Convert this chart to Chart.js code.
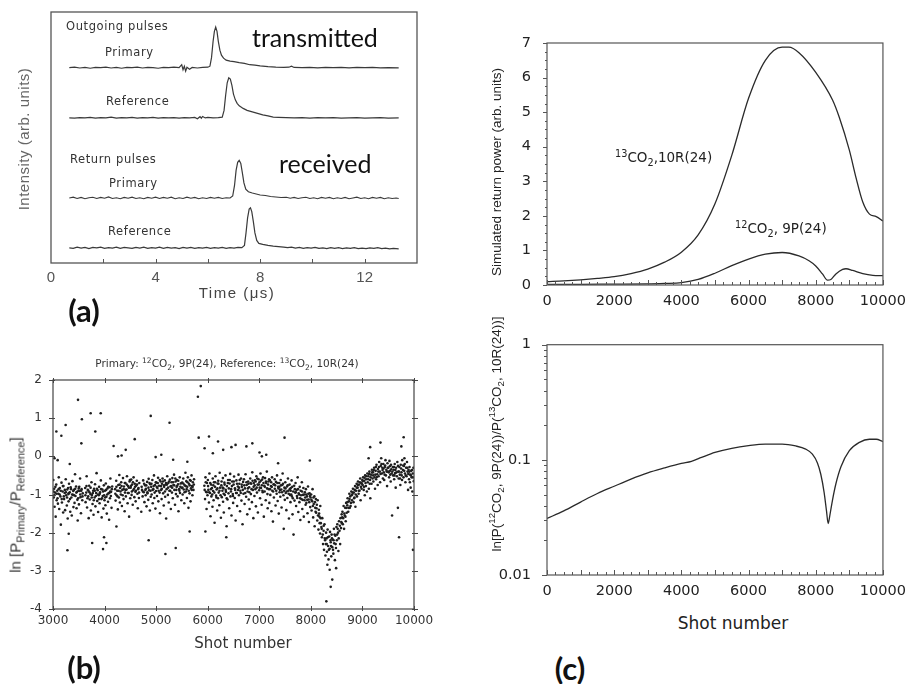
<!DOCTYPE html>
<html>
<head>
<meta charset="utf-8">
<script src="https://cdn.jsdelivr.net/npm/chart.js@4.4.1/dist/chart.umd.min.js"></script>
<style>
  body { margin: 0; background: #fff; }
  #wrap { position: relative; width: 914px; height: 684px; overflow: hidden; }
  canvas { position: absolute; }
  .t { position: absolute; white-space: nowrap; color: #222; font-family: "DejaVu Sans", sans-serif; }
  .c { transform: translate(-50%, -50%); }
  .l { transform: translate(0, -50%); }
  .r { transform: translate(-50%, -50%) rotate(-90deg); }
  sup, sub { font-size: 72%; line-height: 0; }
  .big { font-family: Lato, sans-serif; font-size: 25px; color: #111; }
  .tag { font-family: Lato, sans-serif; font-weight: bold; font-size: 31px; color: #111; }
  .a { font-size: 11.5px; color: #333; letter-spacing: 0.6px; }
</style>
</head>
<body>
<div id="wrap">
  <canvas id="pa" width="460" height="300" style="left:0;top:0"></canvas>
  <canvas id="pb" width="460" height="310" style="left:0;top:330px"></canvas>
  <canvas id="pc1" width="434" height="320" style="left:480px;top:0"></canvas>
  <canvas id="pc2" width="434" height="290" style="left:480px;top:320px"></canvas>

  <!-- (a) -->
  <div class="t l a" style="left:66px;top:26px">Outgoing pulses</div>
  <div class="t l a" style="left:105px;top:52px">Primary</div>
  <div class="t l a" style="left:106px;top:101px">Reference</div>
  <div class="t l a" style="left:70px;top:159px">Return pulses</div>
  <div class="t l a" style="left:109px;top:183px">Primary</div>
  <div class="t l a" style="left:108px;top:231px">Reference</div>
  <div class="t l big" style="left:252px;top:37px">transmitted</div>
  <div class="t l big" style="left:279px;top:163px">received</div>
  <div class="t r" style="left:23px;top:139px;font-family:'Liberation Sans';font-size:15px;color:#666;letter-spacing:0.5px">Intensity (arb. units)</div>
  <div class="t c" style="left:237px;top:292px;font-family:'Liberation Sans';font-size:15px;color:#444;letter-spacing:1.5px">Time (μs)</div>
  <div class="t c tag" style="left:84px;top:310px">(a)</div>

  <!-- (b) -->
  <div class="t c" style="left:227px;top:363px;font-size:10.5px;color:#333">Primary: <sup>12</sup>CO<sub>2</sub>, 9P(24), Reference: <sup>13</sup>CO<sub>2</sub>, 10R(24)</div>
  <div class="t r" style="left:15px;top:505px;font-family:'Liberation Sans';font-size:15px;color:#333">ln [P<sub>Primary</sub>/P<sub>Reference</sub>]</div>
  <div class="t c" style="left:243px;top:643px;font-size:15px;color:#333">Shot number</div>
  <div class="t c tag" style="left:84px;top:667px">(b)</div>

  <!-- (c) -->
  <div class="t r" style="left:496px;top:172px;font-family:'Liberation Sans';font-size:13.5px">Simulated return power (arb. units)</div>
  <div class="t l" style="left:615px;top:157px;font-size:13.5px"><sup>13</sup>CO<sub>2</sub>,10R(24)</div>
  <div class="t l" style="left:735px;top:228px;font-size:13.5px"><sup>12</sup>CO<sub>2</sub>, 9P(24)</div>
  <div class="t r" style="left:496px;top:434px;font-family:'Liberation Sans';font-size:13.5px">ln[P(<sup>12</sup>CO<sub>2</sub>, 9P(24))/P(<sup>13</sup>CO<sub>2</sub>, 10R(24))]</div>
  <div class="t c" style="left:733px;top:623px;font-size:17px">Shot number</div>
  <div class="t c tag" style="left:570px;top:668px">(c)</div>
</div>

<script>
// ---- (a) pulse traces: [time µs, signal] ----
const traceBaselines = [7.78, 5.78, 2.59, 0.6];

const outPrimary = [[0.7,0],[0.9,0.02],[1.1,-0.01],[1.3,0.01],[1.5,-0.02],[1.7,0.01],[1.9,0],[2.1,0.02],[2.3,-0.01],[2.5,0.01],[2.7,-0.02],[2.9,0.01],[3.1,0],[3.3,0.02],[3.5,-0.01],[3.7,0.01],[3.9,0],[4.1,-0.02],[4.3,0.01],[4.5,0],[4.7,0.02],[4.9,0],[5.0,0.12],[5.05,-0.08],[5.1,0.06],[5.15,-0.14],[5.2,0.02],[5.3,-0.06],[5.4,0.01],[5.6,-0.01],[5.8,0.01],[6.0,0.02],[6.08,0.06],[6.14,0.4],[6.2,1.05],[6.25,1.45],[6.3,1.62],[6.35,1.45],[6.4,1.05],[6.46,0.7],[6.52,0.5],[6.6,0.38],[6.7,0.3],[6.85,0.26],[7.0,0.24],[7.2,0.2],[7.4,0.17],[7.6,0.12],[7.8,0.1],[8.0,0.07],[8.3,0.04],[8.6,0.02],[8.9,0.01],[9.1,0.02],[9.2,0.06],[9.3,0.01],[9.6,0],[9.9,0.01],[10.2,-0.01],[10.5,0.01],[10.8,0],[11.1,0.01],[11.4,-0.01],[11.7,0.01],[12.0,0],[12.3,0.01],[12.6,-0.01],[12.9,0],[13.3,-0.01]];

const outReference = [[0.7,0],[0.9,-0.01],[1.1,0.01],[1.3,0],[1.5,0.02],[1.7,-0.01],[1.9,0.01],[2.1,0],[2.3,0.03],[2.5,-0.01],[2.7,0.01],[2.9,0],[3.1,0.02],[3.3,-0.01],[3.5,0.01],[3.7,0],[3.9,0.02],[4.1,-0.01],[4.3,0.01],[4.5,0],[4.7,0.01],[4.9,-0.01],[5.1,0.01],[5.3,0],[5.5,0.02],[5.6,-0.03],[5.7,0.05],[5.75,-0.01],[5.8,0.06],[5.9,0],[6.0,0.02],[6.2,0],[6.4,0.01],[6.55,0.03],[6.62,0.3],[6.68,0.9],[6.74,1.4],[6.8,1.6],[6.86,1.55],[6.92,1.3],[6.98,0.95],[7.05,0.72],[7.12,0.58],[7.2,0.48],[7.35,0.38],[7.5,0.3],[7.7,0.24],[7.9,0.18],[8.1,0.12],[8.3,0.08],[8.5,0.03],[8.7,0.02],[9.0,0.01],[9.3,0],[9.6,0.01],[9.9,-0.01],[10.2,0.01],[10.5,0],[10.8,0.01],[11.1,-0.01],[11.4,0],[11.7,0.01],[12.0,-0.01],[12.3,0],[12.6,0.01],[12.9,-0.01],[13.3,0]];

const retPrimary = [[0.7,0],[0.85,0.03],[1.0,-0.02],[1.15,0.02],[1.3,-0.03],[1.45,0.01],[1.6,0.03],[1.75,-0.02],[1.9,0.02],[2.05,-0.01],[2.2,0.04],[2.35,-0.02],[2.5,0.01],[2.65,-0.03],[2.8,0.02],[2.95,-0.01],[3.1,0.03],[3.25,-0.02],[3.4,0.01],[3.55,-0.03],[3.7,0.02],[3.85,-0.01],[4.0,0.03],[4.15,-0.02],[4.3,0.02],[4.45,-0.01],[4.6,0.03],[4.75,-0.03],[4.9,0.01],[5.05,-0.02],[5.2,0.03],[5.35,-0.01],[5.5,0.02],[5.65,-0.03],[5.8,0.01],[5.95,-0.02],[6.1,0.02],[6.25,-0.01],[6.4,0.02],[6.55,-0.02],[6.7,0.01],[6.85,0],[6.95,0.08],[7.02,0.5],[7.08,1.1],[7.14,1.42],[7.2,1.5],[7.26,1.38],[7.32,1.0],[7.38,0.6],[7.45,0.35],[7.55,0.25],[7.7,0.2],[7.85,0.16],[8.0,0.12],[8.2,0.1],[8.4,0.06],[8.6,0.04],[8.8,0.02],[9.0,0.03],[9.15,-0.01],[9.3,0.02],[9.45,-0.02],[9.6,0.01],[9.75,0.03],[9.9,-0.02],[10.05,0.01],[10.2,-0.03],[10.35,0.02],[10.5,-0.01],[10.65,0.02],[10.8,-0.03],[10.95,0.01],[11.1,-0.02],[11.25,0.02],[11.4,-0.03],[11.55,0],[11.7,0.03],[11.85,-0.02],[12.0,0.01],[12.15,-0.03],[12.3,0.02],[12.45,-0.01],[12.6,0.02],[12.75,-0.03],[12.9,0.01],[13.05,-0.02],[13.2,0],[13.3,-0.02]];

const retReference = [[0.7,0],[0.85,-0.02],[1.0,0.03],[1.15,-0.01],[1.3,0.02],[1.45,-0.03],[1.6,0.02],[1.75,0],[1.9,0.03],[2.05,-0.02],[2.2,0.01],[2.35,-0.01],[2.5,0.03],[2.65,-0.02],[2.8,0.02],[2.95,0],[3.1,-0.02],[3.25,0.02],[3.4,-0.01],[3.55,0.03],[3.7,-0.02],[3.85,0.01],[4.0,-0.01],[4.15,0.03],[4.3,-0.02],[4.45,0.02],[4.6,-0.01],[4.75,0.01],[4.9,-0.03],[5.05,0.02],[5.2,-0.01],[5.35,0.02],[5.5,-0.02],[5.65,0.01],[5.8,-0.01],[5.95,0.02],[6.1,-0.02],[6.25,0.01],[6.4,-0.01],[6.55,0.02],[6.7,-0.02],[6.85,0.01],[7.0,-0.01],[7.15,0.02],[7.3,0.01],[7.4,0.1],[7.46,0.6],[7.52,1.2],[7.58,1.55],[7.63,1.6],[7.68,1.45],[7.74,1.05],[7.8,0.6],[7.87,0.3],[7.95,0.18],[8.1,0.14],[8.3,0.1],[8.5,0.07],[8.7,0.05],[8.9,0.03],[9.05,0.01],[9.2,0.03],[9.35,-0.01],[9.5,0.02],[9.65,-0.02],[9.8,0.01],[9.95,-0.01],[10.1,0.02],[10.25,-0.02],[10.4,0],[10.55,-0.03],[10.7,0.01],[10.85,-0.02],[11.0,0.01],[11.15,-0.03],[11.3,0],[11.45,-0.02],[11.6,0.01],[11.75,-0.03],[11.9,-0.01],[12.05,-0.03],[12.2,0],[12.35,-0.02],[12.5,0.01],[12.65,-0.03],[12.8,-0.01],[12.95,-0.04],[13.1,-0.02],[13.3,-0.04]];

const timeTicks = [0, 4, 8, 12];

// ---- (b) ln ratio per shot: [shot number, ln(P_primary/P_reference)] ----
const ratioShots = [
[3006,-0.62],[3014,-1.08],[3023,-0.85],[3031,-1.32],[3040,-0.95],[3052,-1.58],[3063,-0.74],[3071,-1.15],[3082,-0.9],[3095,-1.24],
[3104,-0.98],[3112,-0.55],[3121,-1.38],[3133,-0.83],[3144,-1.05],[3152,-1.79],[3165,-0.69],[3173,-1.21],[3186,-0.92],[3197,-1.47],
[3203,-0.78],[3215,-1.12],[3226,-0.96],[3234,-1.41],[3247,-0.6],[3255,-1.02],[3268,-1.29],[3276,-0.87],[3285,-1.63],[3298,-0.99],
[3302,-1.18],[3311,-0.72],[3324,-0.94],[3335,-1.45],[3343,-0.81],[3356,-1.08],[3364,-1.55],[3377,-0.65],[3389,-1.01],[3396,-1.33],
[3405,-0.88],[3418,-1.22],[3427,-0.47],[3436,-1.04],[3448,-0.79],[3457,-1.36],[3466,-0.93],[3479,-1.68],[3487,-1.1],[3499,-0.84],
[3503,-1.26],[3516,-0.91],[3525,-0.58],[3533,-1.07],[3542,-1.49],[3554,-0.86],[3568,-1.15],[3577,-0.97],
[3624,-0.83],[3632,-1.2],[3645,-0.95],[3653,-0.52],[3661,-1.34],[3674,-0.88],[3683,-1.05],[3692,-1.62],
[3701,-0.77],[3712,-1.13],[3725,-0.99],[3734,-1.42],[3746,-0.68],[3755,-1.01],[3767,-1.25],[3778,-0.9],[3786,-1.53],[3797,-0.85],
[3806,-1.08],[3815,-0.73],[3823,-1.31],[3837,-0.96],[3845,-0.44],[3858,-1.17],[3866,-0.89],[3875,-1.46],[3888,-1.02],[3894,-0.8],
[3903,-1.23],[3912,-0.94],[3928,-0.63],[3936,-1.12],[3944,-1.6],[3957,-0.87],[3965,-1.04],[3978,-1.37],[3986,-0.76],[3998,-1.15],
[4007,-0.9],[4016,-1.28],[4024,-0.71],[4035,-1.06],[4043,-1.5],[4056,-0.84],[4067,-1.19],[4074,-0.97],[4088,-1.66],[4096,-0.81],
[4104,-1.1],[4113,-0.58],[4127,-0.93],[4135,-1.35],[4148,-0.79],
[4205,-0.86],[4214,-1.16],[4226,-0.64],[4233,-1.02],[4245,-0.9],[4257,-1.39],[4266,-0.75],[4278,-1.08],[4286,-0.49],[4297,-1.21],
[4302,-0.83],[4315,-1.0],[4323,-0.68],[4336,-1.3],[4344,-0.88],[4357,-0.57],[4368,-1.12],[4375,-0.79],[4389,-1.44],[4396,-0.95],
[4404,-0.7],[4413,-1.05],[4426,-0.87],[4434,-0.52],[4447,-1.23],[4455,-0.78],[4468,-0.96],[4476,-1.58],[4485,-0.66],[4498,-1.1],
[4506,-0.82],[4517,-0.61],[4524,-1.01],[4533,-0.74],[4546,-1.27],[4554,-0.89],[4563,-0.55],[4577,-1.07],[4585,-0.72],[4598,-0.93],
[4603,-1.18],[4612,-0.77],[4625,-0.64],[4637,-0.98],[4644,-1.36],[4658,-0.83],[4666,-1.09],[4673,-0.7],
[4712,-1.45],[4726,-0.88],[4738,-1.05],[4749,-0.63],[4761,-0.94],[4773,-1.2],[4785,-0.76],[4797,-1.02],
[4803,-0.85],[4814,-1.31],[4826,-0.67],[4832,-0.97],[4847,-1.14],[4855,-0.59],[4864,-0.89],[4878,-1.42],[4886,-0.73],[4895,-1.06],
[4905,-0.8],[4913,-1.0],[4927,-0.62],[4934,-1.23],[4946,-0.86],[4958,-0.5],[4965,-1.09],[4977,-0.75],[4986,-1.37],[4999,-0.91],
[5004,-0.69],[5016,-1.04],[5025,-0.83],[5037,-0.56],[5043,-1.18],[5055,-0.77],[5068,-0.95],[5074,-1.49],[5086,-0.66],[5097,-0.88],
[5106,-1.12],[5113,-0.72],[5124,-0.58],[5136,-0.97],[5147,-1.29],[5155,-0.8],[5167,-0.63],[5175,-1.06],[5188,-0.74],[5194,-1.63],
[5203,-0.86],[5215,-0.52],[5227,-1.01],[5236,-0.7],[5244,-1.21],[5256,-0.9],[5268,-0.61],[5277,-0.79],[5285,-1.38],[5298,-0.68],
[5306,-0.95],[5314,-0.57],[5323,-1.1],[5335,-0.75],[5347,-0.48],[5353,-0.88],[5366,-1.27],[5378,-0.66],[5384,-0.99],[5396,-0.8],
[5402,-0.62],[5416,-1.05],[5425,-0.73],[5433,-1.44],[5445,-0.86],[5457,-0.55],[5463,-0.96],[5476,-0.71],[5488,-1.15],[5495,-0.83],
[5507,-0.69],[5514,-1.0],[5526,-0.58],[5535,-0.87],[5546,-1.23],[5554,-0.76],[5568,-0.43],[5579,-0.92],[5586,-0.65],[5597,-1.09],
[5604,-0.8],[5615,-0.55],[5627,-1.35],[5636,-0.72],[5648,-0.97],[5655,-0.62],[5667,-1.18],[5675,-0.84],[5686,-0.5],[5694,-0.78],
[5703,-1.02],[5712,-0.68],[5724,-0.88],[5735,-0.6],
[5935,-0.77],[5948,-1.12],[5957,-0.55],[5966,-0.93],[5978,-1.38],[5986,-0.7],[5995,-1.02],
[6003,-0.62],[6012,-0.88],[6024,-1.21],[6033,-0.45],[6045,-0.96],[6054,-1.57],[6066,-0.74],[6071,-1.05],[6083,-0.83],[6092,-1.32],[6098,-0.58],
[6105,-0.91],[6114,-1.15],[6121,-0.68],[6133,-1.74],[6142,-0.8],[6151,-0.52],[6163,-1.03],[6172,-0.87],[6184,-1.42],[6193,-0.71],[6199,-1.1],
[6204,-0.64],[6213,-0.95],[6225,-1.28],[6232,-0.43],[6241,-0.82],[6256,-1.61],[6264,-0.76],[6273,-1.07],[6285,-0.9],[6294,-0.57],[6298,-1.19],
[6306,-0.84],[6312,-1.47],[6324,-0.69],[6331,-1.01],[6345,-0.5],[6353,-0.93],[6366,-1.83],[6372,-0.78],[6384,-1.13],[6395,-0.62],
[6403,-0.97],[6417,-1.36],[6423,-0.71],[6436,-0.46],[6442,-1.05],[6455,-0.86],[6461,-1.55],[6474,-0.66],[6486,-0.99],[6493,-1.22],
[6502,-0.74],[6511,-0.53],[6524,-1.09],[6533,-0.88],[6541,-1.68],[6556,-0.63],[6564,-0.96],[6571,-1.3],[6585,-0.79],[6597,-0.48],
[6605,-1.02],[6613,-0.72],[6627,-1.44],[6632,-0.9],[6646,-0.58],[6654,-1.16],[6663,-0.8],[6675,-1.78],[6686,-0.67],[6694,-0.98],
[6703,-0.6],[6715,-1.25],[6722,-0.84],[6734,-0.47],[6745,-1.06],[6756,-0.75],[6767,-1.52],[6773,-0.92],[6785,-0.66],[6796,-1.13],
[6804,-0.81],[6812,-1.38],[6825,-0.58],[6837,-0.99],[6843,-0.72],[6857,-1.2],[6864,-0.42],[6876,-0.88],[6885,-1.62],[6893,-0.7],
[6906,-1.04],[6917,-0.63],[6924,-0.86],[6935,-1.31],[6943,-0.52],[6955,-0.95],[6967,-0.74],[6973,-1.47],[6986,-0.6],[6997,-0.89],
[7002,-0.68],[7015,-1.1],[7023,-0.45],[7034,-0.83],[7046,-1.27],[7055,-0.61],[7067,-0.94],[7073,-0.55],[7088,-1.58],[7096,-0.77],
[7104,-0.92],[7112,-0.57],[7125,-1.15],[7133,-0.7],[7146,-0.4],[7158,-0.99],[7163,-1.36],[7177,-0.66],[7184,-0.86],[7195,-1.22],
[7207,-0.63],[7214,-1.01],[7226,-0.78],[7235,-1.44],[7247,-0.55],[7252,-0.9],[7265,-1.71],[7276,-0.73],[7283,-1.08],[7298,-0.6],
[7301,-0.85],[7316,-1.29],[7323,-0.67],[7337,-0.98],[7344,-0.5],[7356,-1.17],[7365,-0.8],[7378,-1.5],[7386,-0.7],[7393,-0.94],
[7408,-1.06],[7415,-0.62],[7427,-0.87],[7432,-1.34],[7446,-0.75],[7453,-0.45],[7468,-1.02],[7474,-1.9],[7487,-0.82],[7495,-1.14],
[7504,-0.68],[7513,-0.96],[7525,-1.41],[7538,-0.79],[7544,-1.09],[7556,-0.58],[7563,-0.9],[7575,-1.63],[7587,-0.74],[7596,-1.01],
[7605,-1.2],[7612,-0.83],[7627,-0.63],[7633,-1.05],[7645,-1.52],[7658,-0.92],[7664,-2.05],[7676,-0.77],[7683,-1.16],[7697,-0.95],
[7703,-0.7],[7714,-1.3],[7722,-0.88],[7736,-1.09],[7744,-0.55],[7757,-1.46],[7765,-0.97],[7778,-1.2],[7784,-0.8],[7796,-1.67],
[7802,-0.9],[7816,-1.12],[7825,-0.68],[7834,-1.38],[7847,-1.01],[7855,-0.83],[7863,-1.58],[7877,-1.15],[7884,-0.94],[7898,-1.27],
[7904,-0.86],[7913,-1.22],[7926,-1.05],[7934,-1.49],[7945,-0.79],[7957,-1.13],[7962,-1.72],[7976,-0.97],[7988,-1.33],[7995,-1.08],
[8006,-1.0],[8014,-1.42],[8027,-1.18],[8033,-0.86],[8045,-1.6],[8056,-1.25],[8068,-1.05],[8074,-1.83],[8085,-1.35],[8097,-1.12],
[8103,-1.48],[8116,-1.27],[8124,-1.68],[8132,-1.15],[8147,-1.92],[8155,-1.4],[8166,-1.58],[8178,-2.02],[8183,-1.3],[8194,-1.75],
[8205,-1.85],[8214,-2.12],[8222,-1.62],[8236,-2.3],[8247,-1.95],[8255,-2.45],[8264,-1.78],[8276,-2.2],[8283,-2.6],[8295,-2.0],
[8304,-2.15],[8312,-2.5],[8325,-1.92],[8334,-2.35],[8343,-2.7],[8356,-2.1],[8364,-2.42],[8372,-1.98],[8385,-2.25],[8396,-2.62],
[8403,-2.05],[8415,-2.38],[8424,-2.18],[8436,-2.55],[8447,-1.9],[8453,-2.28],[8466,-2.72],[8475,-2.08],[8487,-2.4],[8496,-1.85],
[8504,-2.2],[8513,-1.78],[8527,-2.0],[8534,-2.48],[8545,-1.7],[8556,-1.95],[8568,-2.3],[8574,-1.62],[8585,-1.88],[8597,-1.52],
[8603,-1.75],[8612,-1.45],[8626,-1.62],[8635,-1.3],[8644,-1.9],[8657,-1.55],[8665,-1.35],[8676,-1.7],[8684,-1.22],[8695,-1.48],
[8706,-1.28],[8713,-1.1],[8725,-1.45],[8738,-1.18],[8746,-0.98],[8755,-1.35],[8763,-1.05],[8777,-1.22],[8785,-0.92],[8798,-1.15],
[8802,-1.0],[8816,-0.85],[8827,-1.2],[8833,-0.95],[8845,-1.08],[8857,-0.78],[8864,-1.32],[8876,-0.9],[8888,-0.72],[8895,-1.05],
[8907,-0.82],[8914,-0.66],[8926,-0.98],[8935,-0.74],[8943,-0.9],[8957,-0.58],[8965,-1.15],[8976,-0.7],[8983,-0.85],[8997,-0.62],
[9004,-0.75],[9013,-0.55],[9025,-0.88],[9037,-0.64],[9046,-1.02],[9052,-0.5],[9067,-0.78],[9074,-0.6],[9086,-0.92],[9095,-0.45],
[9103,-0.68],[9116,-0.52],[9124,-0.85],[9135,-0.4],[9147,-0.62],[9153,-1.1],[9168,-0.48],[9176,-0.72],[9184,-0.35],[9197,-0.58],
[9205,-0.42],[9212,-0.66],[9227,-0.3],[9236,-0.55],[9244,-0.85],[9256,-0.38],[9265,-0.6],[9273,-0.22],[9288,-0.47],[9296,-0.75],
[9302,-0.33],[9314,-0.52],[9325,-0.15],[9337,-0.4],[9343,-0.68],[9356,-0.25],[9364,-0.05],[9376,-0.45],[9385,-0.3],[9397,-0.58],
[9406,-0.2],[9413,-0.42],[9422,-0.62],[9434,-0.28],[9447,-0.1],[9455,-0.5],[9463,-0.35],[9478,-0.78],[9486,-0.18],[9494,-0.4],
[9503,-0.3],[9517,-0.55],[9524,-0.12],[9533,-0.38],[9548,-0.66],[9554,-0.22],[9566,-0.45],[9575,-1.55],[9587,-0.28],[9596,-0.5],
[9607,-0.35],[9615,-0.6],[9626,-0.2],[9634,-0.44],[9645,-0.82],[9653,-0.3],[9668,-0.52],[9677,-0.15],[9688,-1.35],[9694,-0.4],
[9703,-0.58],[9716,-0.28],[9724,-0.48],[9735,-0.75],[9743,-0.22],[9757,-0.42],[9768,-0.62],[9772,-0.1],[9786,-0.36],[9797,-0.55],
[9806,-0.25],[9814,-0.05],[9826,-0.45],[9833,-0.68],[9847,-0.3],[9855,-0.52],[9864,-0.15],[9876,-0.4],[9885,-0.88],[9893,-0.35],
[9904,-0.6],[9913,-0.28],[9927,-0.48],[9935,-0.82],[9946,-0.38],[9954,-0.55],[9968,-0.92],[9975,-0.45],[9988,-0.3],[9996,-0.65]
];
// the dense core of the cloud
const ratioCore = [
[3009,-0.92],[3027,-1.02],[3046,-0.8],[3068,-0.98],[3088,-1.1],[3109,-0.86],[3128,-1.0],[3149,-0.9],[3169,-1.12],[3191,-0.78],
[3209,-1.05],[3229,-0.88],[3251,-0.94],[3272,-1.08],[3293,-0.83],[3307,-0.97],[3329,-1.12],[3349,-0.86],[3370,-1.0],[3392,-0.91],
[3411,-1.02],[3431,-0.85],[3452,-0.95],[3473,-1.14],[3493,-0.9],[3509,-0.8],[3529,-1.0],[3548,-0.9],[3572,-1.05],
[3628,-1.02],[3649,-0.78],[3668,-1.1],[3687,-0.9],[3707,-0.94],[3729,-0.82],[3751,-1.08],[3772,-0.96],[3791,-1.15],
[3810,-0.9],[3831,-1.04],[3852,-0.85],[3871,-1.0],[3891,-1.12],[3908,-0.98],[3932,-0.86],[3951,-1.1],[3971,-0.92],[3992,-1.02],
[4011,-1.08],[4030,-0.88],[4051,-1.0],[4071,-0.8],[4092,-0.96],[4108,-0.92],[4122,-1.04],[4141,-0.86],
[4209,-0.98],[4230,-0.8],[4251,-1.05],[4272,-0.9],[4291,-0.74],[4309,-0.92],[4329,-0.78],[4351,-1.02],[4371,-0.86],[4392,-0.7],
[4408,-0.88],[4430,-0.74],[4451,-0.96],[4472,-0.82],[4491,-0.62],[4510,-0.78],[4529,-0.92],[4550,-0.68],[4571,-0.85],[4592,-0.8],
[4607,-0.9],[4629,-0.74],[4650,-0.86],[4669,-0.95],[4719,-0.8],[4743,-0.92],[4767,-0.72],[4791,-0.88],
[4808,-0.76],[4830,-0.94],[4851,-0.82],[4871,-0.7],[4891,-0.9],[4909,-0.72],[4931,-0.88],[4952,-0.78],[4971,-0.95],[4993,-0.68],
[5010,-0.8],[5031,-0.7],[5049,-0.9],[5071,-0.62],[5092,-0.78],[5110,-0.85],[5130,-0.66],[5151,-0.76],[5171,-0.92],[5191,-0.7],
[5209,-0.74],[5232,-0.82],[5250,-0.66],[5272,-0.9],[5292,-0.78],[5310,-0.82],[5329,-0.68],[5350,-0.76],[5372,-0.58],[5391,-0.88],
[5408,-0.78],[5429,-0.64],[5451,-0.9],[5470,-0.8],[5492,-0.7],[5510,-0.82],[5530,-0.72],[5550,-0.94],[5573,-0.78],[5592,-0.86],
[5609,-0.68],[5632,-0.9],[5651,-0.76],[5671,-0.64],[5690,-0.88],[5708,-0.8],[5730,-0.74],
[5941,-0.88],[5962,-0.68],[5982,-0.94],[6007,-0.78],[6029,-0.94],[6049,-0.7],[6062,-0.86],[6088,-1.0],
[6109,-0.76],[6128,-0.95],[6146,-0.68],[6168,-1.08],[6188,-0.84],[6208,-0.72],[6229,-0.9],[6249,-1.02],[6269,-0.66],[6289,-0.82],
[6309,-0.98],[6328,-0.74],[6349,-0.88],[6368,-1.1],[6390,-0.7],[6409,-0.84],[6428,-0.62],[6450,-0.92],[6469,-0.78],[6490,-1.04],
[6507,-0.66],[6528,-0.84],[6549,-0.96],[6568,-0.72],[6591,-0.88],[6609,-0.82],[6620,-0.62],[6640,-0.96],[6659,-0.74],[6680,-0.88],
[6709,-0.76],[6728,-0.96],[6750,-0.68],[6779,-0.84],[6790,-0.72],[6808,-0.94],[6830,-0.7],[6850,-0.86],[6870,-0.64],[6890,-0.8],
[6911,-0.76],[6930,-0.66],[6950,-0.82],[6961,-0.58],[6991,-0.74],[7008,-0.82],[7029,-0.64],[7050,-0.76],[7061,-0.9],[7081,-0.7],
[7108,-0.8],[7129,-0.66],[7151,-0.84],[7170,-0.74],[7190,-0.6],[7210,-0.86],[7231,-0.68],[7242,-0.8],[7270,-0.92],[7290,-0.74],
[7308,-0.76],[7329,-0.9],[7350,-0.7],[7371,-0.84],[7390,-0.8],[7403,-0.88],[7421,-0.76],[7441,-0.94],[7460,-0.72],[7481,-0.9],
[7509,-0.84],[7530,-0.92],[7550,-0.76],[7569,-0.98],[7591,-0.86],[7609,-0.9],[7620,-1.0],[7640,-0.8],[7651,-1.1],[7690,-0.86],
[7709,-0.94],[7730,-1.04],[7751,-0.86],[7770,-1.0],[7790,-1.1],[7808,-1.02],[7829,-0.92],[7841,-1.14],[7870,-1.0],[7891,-1.08],
[7909,-1.0],[7930,-1.14],[7951,-0.98],[7969,-1.2],[7982,-1.04],[8010,-1.14],[8039,-1.3],[8050,-1.08],[8080,-1.2],[8091,-1.45],
[8109,-1.36],[8138,-1.55],[8160,-1.5],[8171,-1.75],[8189,-1.62],[8210,-1.9],[8230,-2.05],[8250,-1.82],[8270,-2.15],[8290,-2.3],
[8308,-2.3],[8329,-2.12],[8350,-2.45],[8380,-2.2],[8391,-2.35],[8409,-2.15],[8430,-2.45],[8441,-2.2],[8460,-2.05],[8481,-2.3],
[8509,-2.05],[8520,-1.9],[8540,-2.15],[8562,-1.82],[8590,-1.72],[8608,-1.6],[8620,-1.78],[8649,-1.5],[8670,-1.58],[8690,-1.35],
[8709,-1.2],[8730,-1.35],[8750,-1.12],[8770,-1.3],[8790,-1.02],[8810,-0.95],[8839,-1.1],[8850,-0.88],[8870,-1.0],[8890,-0.82],
[8910,-0.75],[8930,-0.9],[8950,-0.68],[8970,-0.8],[8990,-0.72],[9008,-0.65],[9030,-0.8],[9041,-0.56],[9060,-0.7],[9080,-0.52],
[9110,-0.6],[9130,-0.46],[9141,-0.72],[9160,-0.55],[9190,-0.42],[9209,-0.5],[9220,-0.36],[9250,-0.48],[9260,-0.28],[9280,-0.54],
[9308,-0.4],[9320,-0.28],[9350,-0.46],[9370,-0.2],[9390,-0.36],[9409,-0.32],[9430,-0.48],[9440,-0.24],[9470,-0.4],[9490,-0.3],
[9509,-0.42],[9530,-0.26],[9540,-0.48],[9560,-0.34],[9580,-0.4],[9610,-0.28],[9620,-0.5],[9640,-0.36],[9660,-0.42],[9690,-0.25],
[9710,-0.4],[9730,-0.58],[9750,-0.32],[9761,-0.5],[9790,-0.24],[9810,-0.38],[9820,-0.2],[9840,-0.5],[9870,-0.3],[9890,-0.46],
[9910,-0.4],[9920,-0.68],[9940,-0.5],[9960,-0.36],[9980,-0.55]
];
// scattered outliers
const ratioOutliers = [[3065,0.65],[3162,0.54],[3245,0.82],[3485,1.48],[3560,0.97],[3550,0.34],[3730,1.13],[3820,0.65],[3925,1.13],[4175,0.27],[4585,0.45],[4895,1.06],[5260,0.88],[5810,1.56],[5865,1.84],[5825,0.49],[6025,0.52],[6200,0.39],[7490,0.49],[9150,0.24],[9350,0.36],[9800,0.5],[9755,0.26],
[3280,-2.46],[3305,-2.03],[3760,-2.27],[3970,-2.43],[3990,-2.12],[4035,-2.27],[4230,-1.84],[4855,-2.2],[5180,-2.56],[5380,-2.4],[5650,-1.97],[5955,-1.97],[6360,-2.12],[9710,-2.12],[9980,-2.45],
[8300,-3.8],[8385,-3.42],[8415,-3.23],[8365,-2.97],[8490,-2.93],[8320,-2.84],
[3030,-0.05],[3090,-0.1],[3325,-0.2],[4260,0.0],[4330,0.02],[4410,0.17],[4990,-0.02],[5100,0.04],[5330,-0.09],[5605,-0.14],[5940,0.21],[6100,0.08],[6300,0.17],[6460,0.24],[6540,0.3],[6750,0.26],[6865,0.34],[7005,0.1],[7050,0.0],[7135,0.04],[7365,-0.18],[7980,-0.11],[9120,-0.05]];

const shotTicksB = [3000, 4000, 5000, 6000, 7000, 8000, 9000, 10000];
const lnTicks = [-4, -3, -2, -1, 0, 1, 2];

// ---- (c) simulated return power and ratio: [shot number, value] ----
const power13 = [[0,0.1],[500,0.12],[1000,0.15],[1500,0.19],[2000,0.24],[2500,0.33],[3000,0.46],[3500,0.66],[4000,0.95],[4500,1.45],[5000,2.35],[5500,3.75],[6000,5.4],[6500,6.5],[7000,6.88],[7200,6.88],[7500,6.72],[8000,6.15],[8500,5.35],[8700,4.85],[9000,3.9],[9200,3.1],[9400,2.4],[9600,2.05],[9800,1.98],[10000,1.85]];
const power12 = [[0,0.02],[1000,0.02],[2000,0.025],[3000,0.03],[3500,0.045],[4000,0.07],[4500,0.16],[5000,0.34],[5500,0.56],[6000,0.75],[6500,0.89],[7000,0.94],[7500,0.84],[7800,0.7],[8000,0.55],[8200,0.32],[8350,0.14],[8450,0.16],[8600,0.32],[8800,0.45],[8900,0.47],[9100,0.42],[9400,0.33],[9700,0.28],[10000,0.27]];
const powerRatio = [[0,0.031],[500,0.036],[1000,0.043],[1500,0.051],[2000,0.059],[2500,0.068],[3000,0.077],[3500,0.085],[4000,0.093],[4300,0.097],[4600,0.105],[5000,0.116],[5500,0.126],[6000,0.133],[6500,0.137],[7000,0.137],[7400,0.132],[7700,0.124],[7900,0.112],[8050,0.094],[8150,0.075],[8250,0.052],[8320,0.036],[8370,0.028],[8420,0.033],[8500,0.045],[8600,0.062],[8750,0.087],[9000,0.12],[9300,0.142],[9600,0.151],[9800,0.151],[10000,0.144]];

const shotTicksC = [0, 2000, 4000, 6000, 8000, 10000];
const powerTicks = [0, 1, 2, 3, 4, 5, 6, 7];
const ratioTicks = [0.01, 0.1, 1];

const xy = arr => arr.map(p => ({ x: p[0], y: p[1] }));
const range = (a, b, s) => { const r = []; for (let v = a; v <= b + 1e-9; v += s) r.push(v); return r; };
const plain = v => String(v);

// box and tick marks
const framePlugin = {
  id: 'frame',
  afterDatasetsDraw(chart, args, o) {
    const { ctx, chartArea: a, scales } = chart;
    ctx.save();
    ctx.strokeStyle = o.color;
    ctx.lineWidth = o.width;
    ctx.strokeRect(a.left, a.top, a.right - a.left, a.bottom - a.top);
    ctx.lineWidth = 1;
    ctx.beginPath();
    (o.x || []).forEach(t => t.values.forEach(v => {
      const px = Math.round(scales.x.getPixelForValue(v)) + 0.5;
      if (t.sides.includes('bottom')) { ctx.moveTo(px, a.bottom + (t.out || 0)); ctx.lineTo(px, a.bottom - t.len); }
      if (t.sides.includes('top')) { ctx.moveTo(px, a.top - (t.out || 0)); ctx.lineTo(px, a.top + t.len); }
    }));
    (o.y || []).forEach(t => t.values.forEach(v => {
      const py = Math.round(scales.y.getPixelForValue(v)) + 0.5;
      if (t.sides.includes('left')) { ctx.moveTo(a.left - (t.out || 0), py); ctx.lineTo(a.left + t.len, py); }
      if (t.sides.includes('right')) { ctx.moveTo(a.right + (t.out || 0), py); ctx.lineTo(a.right - t.len, py); }
    }));
    ctx.stroke();
    ctx.restore();
  }
};

const base = (pad) => ({
  responsive: false,
  animation: false,
  layout: { padding: pad },
  plugins: { legend: { display: false }, tooltip: { enabled: false } }
});

const lineSet = (data, color, width) => ({
  data, showLine: true, borderColor: color, borderWidth: width,
  pointRadius: 0, fill: false, cubicInterpolationMode: 'monotone'
});

const dotSet = data => ({ data, pointRadius: 1.3, pointBackgroundColor: '#1e1e1e', pointBorderWidth: 0 });

// ---- (a) ----
const traces = [outPrimary, outReference, retPrimary, retReference];
new Chart(document.getElementById('pa'), {
  type: 'scatter',
  data: {
    datasets: traces.map((tr, i) => ({
      data: tr.map(p => ({ x: p[0], y: p[1] + traceBaselines[i] })),
      showLine: true, borderColor: '#3a3a3a', borderWidth: 1.2, pointRadius: 0, tension: 0
    }))
  },
  options: Object.assign(base({ left: 51, top: 12, right: 43, bottom: 7 }), {
    scales: {
      x: {
        type: 'linear', min: 0, max: 14,
        grid: { display: false, drawTicks: false }, border: { display: false },
        afterBuildTicks: s => { s.ticks = timeTicks.map(v => ({ value: v })); },
        afterFit: s => { s.height = 30; },
        ticks: { padding: 6, color: '#555', font: { family: 'Liberation Sans', size: 15 }, maxRotation: 0, callback: plain }
      },
      y: { min: 0, max: 10, display: false }
    },
    plugins: {
      legend: { display: false }, tooltip: { enabled: false },
      frame: { color: '#555', width: 1.3, x: [{ values: range(2, 12, 2), len: 4, sides: ['bottom'] }] }
    }
  }),
  plugins: [framePlugin]
});

// ---- (b) ----
new Chart(document.getElementById('pb'), {
  type: 'scatter',
  data: { datasets: [dotSet(xy(ratioShots)), dotSet(xy(ratioCore)), dotSet(xy(ratioOutliers))] },
  options: Object.assign(base({ left: 18, top: 50, right: 46, bottom: 7 }), {
    scales: {
      x: {
        type: 'linear', min: 3000, max: 10000,
        grid: { display: false, drawTicks: false }, border: { display: false },
        afterBuildTicks: s => { s.ticks = shotTicksB.map(v => ({ value: v })); },
        afterFit: s => { s.height = 24; },
        ticks: { padding: 5, color: '#333', font: { family: 'DejaVu Sans', size: 12 }, maxRotation: 0, callback: plain }
      },
      y: {
        type: 'linear', min: -4, max: 2,
        grid: { display: false, drawTicks: false }, border: { display: false },
        afterBuildTicks: s => { s.ticks = lnTicks.map(v => ({ value: v })); },
        afterFit: s => { s.width = 35; },
        ticks: { padding: 11, color: '#333', font: { family: 'DejaVu Sans', size: 12 }, callback: plain }
      }
    },
    plugins: {
      legend: { display: false }, tooltip: { enabled: false },
      frame: {
        color: '#444', width: 1.2,
        x: [{ values: shotTicksB, len: 3, out: 2, sides: ['bottom', 'top'] }],
        y: [{ values: lnTicks, len: 2, out: 4, sides: ['left', 'right'] }]
      }
    }
  }),
  plugins: [framePlugin]
});

// ---- (c) top ----
const shotAxis = (h) => ({
  type: 'linear', min: 0, max: 10000,
  grid: { display: false, drawTicks: false }, border: { display: false },
  afterBuildTicks: s => { s.ticks = shotTicksC.map(v => ({ value: v })); },
  afterFit: s => { s.height = h; },
  ticks: { padding: 8, color: '#222', font: { family: 'DejaVu Sans', size: 14.5 }, maxRotation: 0, callback: plain }
});
const shotMarks = [
  { values: range(0, 10000, 250), len: 3, sides: ['bottom'] },
  { values: range(0, 10000, 1000), len: 5, sides: ['bottom'] }
];

new Chart(document.getElementById('pc1'), {
  type: 'scatter',
  data: { datasets: [lineSet(xy(power13), '#2a2a2a', 1.3), lineSet(xy(power12), '#2a2a2a', 1.3)] },
  options: Object.assign(base({ left: 27, top: 43, right: 23, bottom: 7 }), {
    scales: {
      x: shotAxis(28),
      y: {
        type: 'linear', min: 0, max: 7,
        grid: { display: false, drawTicks: false }, border: { display: false },
        afterBuildTicks: s => { s.ticks = powerTicks.map(v => ({ value: v })); },
        afterFit: s => { s.width = 40; },
        ticks: { padding: 16, color: '#222', font: { family: 'DejaVu Sans', size: 14.5 }, callback: plain }
      }
    },
    plugins: {
      legend: { display: false }, tooltip: { enabled: false },
      frame: {
        color: '#555', width: 1.2, x: shotMarks,
        y: [{ values: range(0, 7, 0.25), len: 0, out: 2, sides: ['left'] }, { values: powerTicks, len: 0, out: 4, sides: ['left'] }]
      }
    }
  }),
  plugins: [framePlugin]
});

// ---- (c) bottom ----
const logMinor = [];
[0.01, 0.1].forEach(d => { for (let k = 2; k <= 9; k++) logMinor.push(d * k); });

new Chart(document.getElementById('pc2'), {
  type: 'scatter',
  data: { datasets: [lineSet(xy(powerRatio), '#2a2a2a', 1.3)] },
  options: Object.assign(base({ left: 17, top: 18, right: 23, bottom: 7 }), {
    scales: {
      x: shotAxis(28),
      y: {
        type: 'logarithmic', min: 0.01, max: 1,
        grid: { display: false, drawTicks: false }, border: { display: false },
        afterBuildTicks: s => { s.ticks = ratioTicks.map(v => ({ value: v })); },
        afterFit: s => { s.width = 50; },
        ticks: { padding: 16, color: '#222', font: { family: 'DejaVu Sans', size: 14.5 }, callback: plain }
      }
    },
    plugins: {
      legend: { display: false }, tooltip: { enabled: false },
      frame: {
        color: '#555', width: 1.2, x: shotMarks,
        y: [{ values: logMinor, len: 0, out: 3, sides: ['left'] }, { values: ratioTicks, len: 0, out: 5, sides: ['left'] }]
      }
    }
  }),
  plugins: [framePlugin]
});
</script>
</body>
</html>
